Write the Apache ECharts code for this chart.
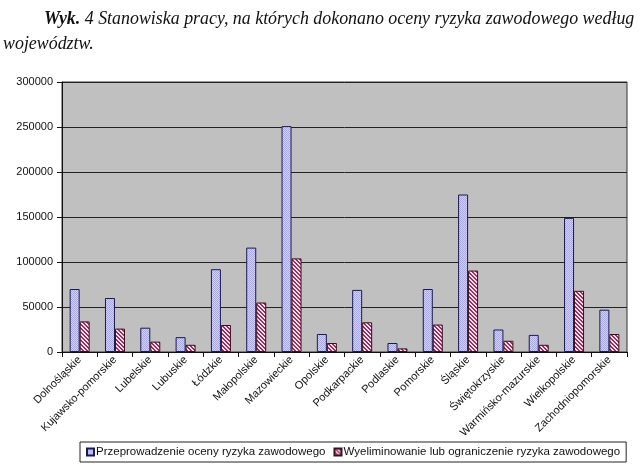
<!DOCTYPE html>
<html><head><meta charset="utf-8">
<script src="https://cdn.jsdelivr.net/npm/echarts@6/dist/echarts.min.js"></script>
<style>html,body{margin:0;padding:0;background:#fff}#c{width:640px;height:467px}</style>
</head><body><div id="c"></div>
<script>
const categories = ['Dolnośląskie','Kujawsko-pomorskie','Lubelskie','Lubuskie','Łódzkie','Małopolskie','Mazowieckie','Opolskie','Podkarpackie','Podlaskie','Pomorskie','Śląskie','Świętokrzyskie','Warmińsko-mazurskie','Wielkopolskie','Zachodniopomorskie'];
const assessed = [70000,60000,27000,16500,92000,116000,251000,20000,69000,10000,70000,175000,25000,19000,149000,47000];
const eliminated = [34000,26000,11500,8000,30000,55000,104000,10000,33000,4000,30500,90500,12500,8000,68000,20000];
const yTicks = [0,50000,100000,150000,200000,250000,300000];
const seriesNames = ['Przeprowadzenie oceny ryzyka zawodowego','Wyeliminowanie lub ograniczenie ryzyka zawodowego'];

function dotPattern(){
  const c=document.createElement('canvas');c.width=2;c.height=2;
  const x=c.getContext('2d');
  x.fillStyle='#d0d0fa';x.fillRect(0,0,2,2);
  x.fillStyle='#a8a8e8';x.fillRect(0,0,1,1);x.fillRect(1,1,1,1);
  return c;
}
function stripePattern(){
  const c=document.createElement('canvas');c.width=4;c.height=4;
  const x=c.getContext('2d');
  x.fillStyle='#f4e0ec';x.fillRect(0,0,4,4);
  x.fillStyle='#9a3060';
  for(let i=0;i<4;i++){x.fillRect(i,i,1,1);x.fillRect((i+1)%4,i,1,1);}
  return c;
}
const chart = echarts.init(document.getElementById('c'),null,{renderer:'canvas'});
chart.setOption({
  animation:false,
  backgroundColor:'#fff',
  title:[
    {text:'{b|Wyk.} 4 Stanowiska pracy, na których dokonano oceny ryzyka zawodowego według',left:39,top:5,
     textStyle:{fontFamily:'Liberation Serif',fontStyle:'italic',fontSize:17.9,fontWeight:'normal',color:'#111',
       rich:{b:{fontFamily:'Liberation Serif',fontStyle:'italic',fontWeight:'bold',fontSize:17.9,color:'#111'}}}},
    {text:'województw.',left:-2,top:30,
     textStyle:{fontFamily:'Liberation Serif',fontStyle:'italic',fontSize:17.9,fontWeight:'normal',color:'#111'}}
  ],
  grid:{left:62,right:13,top:82,bottom:115,show:true,backgroundColor:'#c0c0c0',borderColor:'#333',borderWidth:1},
  legend:{bottom:5,left:80,itemWidth:7,itemHeight:7,itemGap:8,padding:[4,6],
    borderColor:'#222',borderWidth:1,backgroundColor:'#fff',
    textStyle:{fontFamily:'Liberation Sans',fontSize:11.5,color:'#111',padding:[0,0,0,-3]},
    data:seriesNames.map(n=>({name:n,icon:'rect'}))},
  xAxis:{type:'category',data:categories,
    axisLine:{lineStyle:{color:'#111'}},
    axisTick:{show:true,length:5,lineStyle:{color:'#111'}},
    axisLabel:{rotate:45,fontFamily:'Liberation Sans',fontSize:11,color:'#111',margin:6,interval:0}},
  yAxis:{type:'value',min:yTicks[0],max:yTicks[yTicks.length-1],interval:50000,
    axisLine:{show:true,lineStyle:{color:'#111'}},
    axisTick:{show:true,length:5,lineStyle:{color:'#111'}},
    axisLabel:{fontFamily:'Liberation Sans',fontSize:11,color:'#111',margin:9,formatter:v=>String(v)},
    splitLine:{lineStyle:{color:'#222',width:1}}},
  series:[
    {name:seriesNames[0],type:'bar',data:assessed,barWidth:10,barGap:'0%',
     itemStyle:{color:{image:dotPattern(),repeat:'repeat'},borderColor:'#1a1a50',borderWidth:1}},
    {name:seriesNames[1],type:'bar',data:eliminated,barWidth:10,
     itemStyle:{color:{image:stripePattern(),repeat:'repeat'},borderColor:'#3a1020',borderWidth:1}}
  ]
});
</script></body></html>
